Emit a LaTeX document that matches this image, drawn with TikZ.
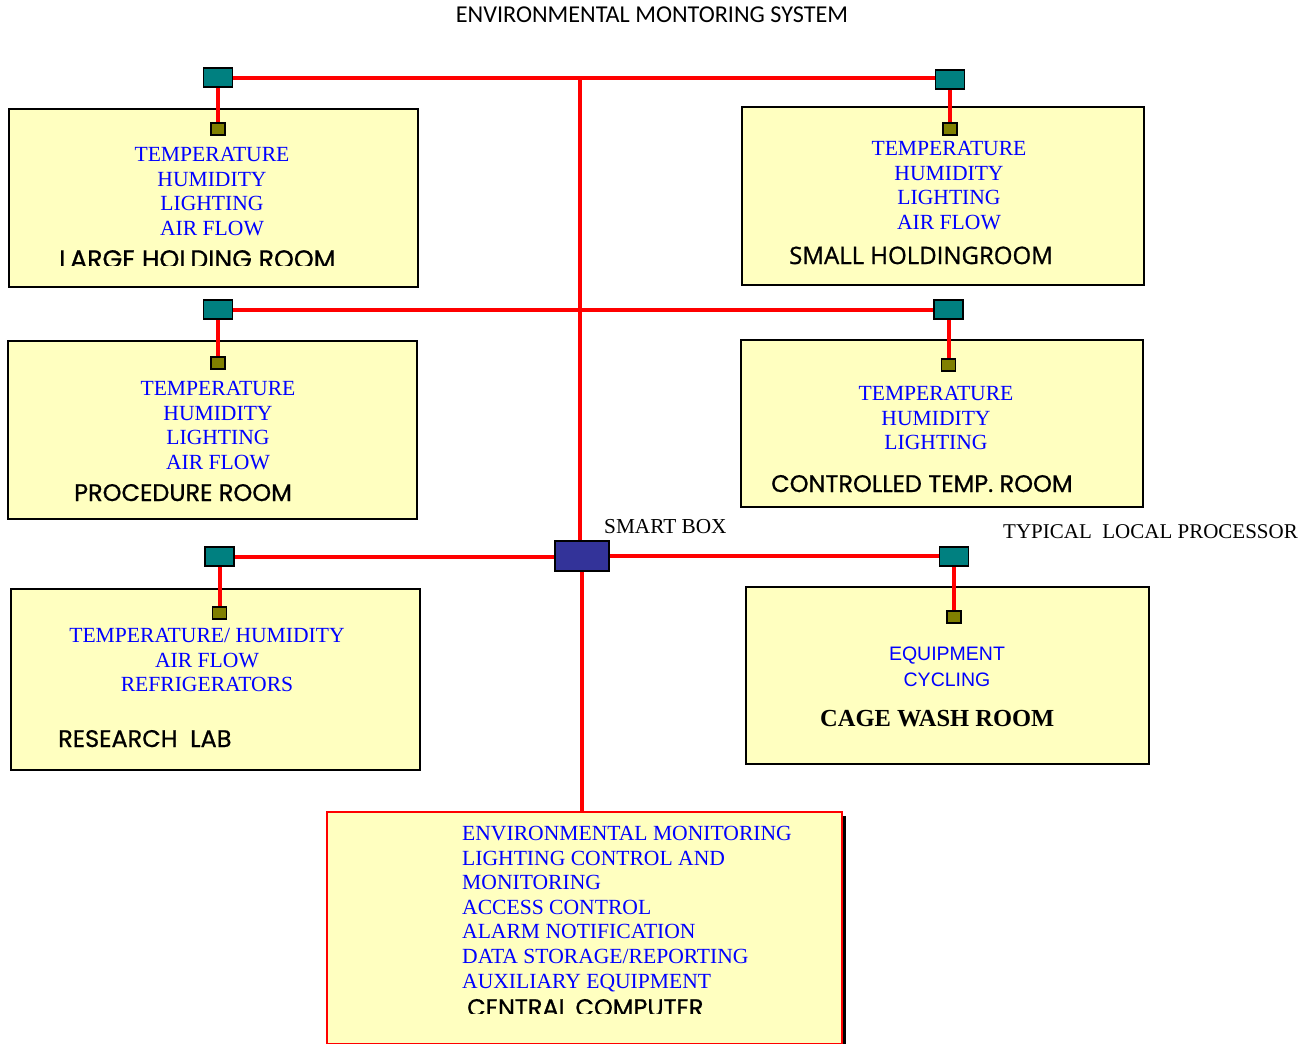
\documentclass[tikz,border=0pt]{standalone}
\usepackage{fontspec}
\setmainfont{Liberation Serif}
\newfontfamily\calib{Carlito}
\newfontfamily\popp{Poppins}[FakeBold=0.8]
\newfontfamily\osans{Open Sans}[FakeBold=1]
\newfontfamily\lsans{Liberation Sans}
\definecolor{roomfill}{RGB}{255,255,192}
\definecolor{procteal}{RGB}{0,128,128}
\definecolor{sensorol}{RGB}{128,128,0}
\definecolor{smartblue}{RGB}{51,51,153}
\definecolor{txtblue}{RGB}{0,0,255}
\definecolor{wire}{RGB}{255,0,0}
\pgfdeclarelayer{roomlayer}
\pgfdeclarelayer{wirelayer}
\pgfsetlayers{roomlayer,wirelayer,main}
\tikzset{
  room/.style={draw=black, line width=2pt, fill=roomfill, anchor=north west, inner sep=0},
  lproc/.style={draw=black, line width=1.2pt, fill=procteal, minimum width=29pt, minimum height=19pt, inner sep=0},
  sens/.style={draw=black, line width=1.2pt, fill=sensorol, minimum width=14pt, minimum height=12pt, inner sep=0},
  smartbox/.style={draw=black, line width=1.5pt, fill=smartblue, minimum width=54pt, minimum height=30pt, inner sep=0},
  wireline/.style={draw=wire, line width=4pt},
  txt/.style={text=txtblue, font=\fontsize{21.6}{24.6}\selectfont, align=center, inner sep=0, anchor=north},
  ttl/.style={font=\popp\fontsize{24}{26}\selectfont, anchor=base west, inner sep=0},
  lbl/.style={font=\fontsize{21.3}{25}\selectfont, anchor=base west, inner sep=0},
}
\begin{document}
\begin{tikzpicture}[x=1pt,y=-1pt]
\useasboundingbox (0,0) rectangle (1310,1044);
% title
\node (title) [font=\calib\fontsize{24.2}{28}\selectfont, anchor=base, inner sep=0] at (652,22) {ENVIRONMENTAL MONTORING SYSTEM};
% rooms
\begin{pgfonlayer}{roomlayer}
\node (r1) [room, minimum width=409pt, minimum height=178pt] at (8,108) {};
\node (r2) [room, minimum width=402pt, minimum height=178pt] at (741,106) {};
\node (r3) [room, minimum width=409pt, minimum height=178pt] at (7,340) {};
\node (r4) [room, minimum width=402pt, minimum height=167pt] at (740,339) {};
\node (r5) [room, minimum width=409pt, minimum height=181pt] at (10,588) {};
\node (r6) [room, minimum width=403pt, minimum height=177pt] at (745,586) {};
\fill[black] (331,816) rectangle (846,1050);
\node (cc) [room, draw=wire, minimum width=515pt, minimum height=232pt] at (326,811) {};
\end{pgfonlayer}
% local processors, sensors, smart box
\node (p1) [lproc] at (218,77.5) {};
\node (p2) [lproc] at (950,79.5) {};
\node (p3) [lproc] at (218,309.5) {};
\node (p4) [lproc] at (948.5,309.5) {};
\node (p5) [lproc] at (219.5,556.5) {};
\node (p6) [lproc] at (954,556.5) {};
\node (s1) [sens] at (218,129) {};
\node (s2) [sens] at (950,129) {};
\node (s3) [sens] at (218,363) {};
\node (s4) [sens] at (948.5,365) {};
\node (s5) [sens] at (219.5,613) {};
\node (s6) [sens] at (954,617) {};
\node (smart) [smartbox] at (582,556) {};
\coordinate (j1) at (580,78);
% wires
\begin{pgfonlayer}{wirelayer}
\draw[wireline] (p1.east) -- (p1.east -| p2.west);
\draw[wireline] (p3.east) -- (p4.west);
\draw[wireline] (j1) -- (j1 |- smart.north);
\draw[wireline] (p5.east) -- (p5.east -| smart.west);
\draw[wireline] (smart.east) -- (smart.east -| p6.west);
\draw[wireline] (smart.south) -- (smart.south |- cc.north);
\draw[wireline] (p1.south) -- (s1.north);
\draw[wireline] (p2.south) -- (s2.north);
\draw[wireline] (p3.south) -- (s3.north);
\draw[wireline] (p4.south) -- (s4.north);
\draw[wireline] (p5.south) -- (s5.north);
\draw[wireline] (p6.south) -- (s6.north);
\end{pgfonlayer}
% labels
\node (lsb) [lbl] at (604,533) {SMART BOX};
\node (ltlp) [lbl, font=\fontsize{21}{24}\selectfont] at (1003,538) {TYPICAL\ \ LOCAL PROCESSOR};
% room texts
\node (t1) [txt] at (212,147) {TEMPERATURE\\HUMIDITY\\LIGHTING\\AIR FLOW};
\node (t2) [txt] at (949,141) {TEMPERATURE\\HUMIDITY\\LIGHTING\\AIR FLOW};
\node (t3) [txt] at (218,381) {TEMPERATURE\\HUMIDITY\\LIGHTING\\AIR FLOW};
\node (t4) [txt] at (936,386) {TEMPERATURE\\HUMIDITY\\LIGHTING};
\node (t5) [txt] at (207,628) {TEMPERATURE/ HUMIDITY\\AIR FLOW\\REFRIGERATORS};
\node (t6) [txt, font=\lsans\fontsize{19.5}{26}\selectfont] at (947,647) {EQUIPMENT\\CYCLING};
\node (t7) [txt, align=left, anchor=north west] at (462,826) {ENVIRONMENTAL MONITORING\\LIGHTING CONTROL AND\\MONITORING\\ACCESS CONTROL\\ALARM NOTIFICATION\\DATA STORAGE/REPORTING\\AUXILIARY EQUIPMENT};
% room titles
\begin{scope}
\clip (8,108) rectangle (417,265);
\node (n1) [ttl, font=\popp\fontsize{25.3}{26}\selectfont] at (59,268) {LARGE HOLDING ROOM};
\end{scope}
\node (n2) [ttl, font=\osans\fontsize{24}{26}\selectfont] at (789,264) {SMALL HOLDINGROOM};
\node (n3) [ttl] at (74,501) {PROCEDURE ROOM};
\node (n4) [ttl] at (771,492) {CONTROLLED TEMP. ROOM};
\node (n5) [ttl] at (58,747) {RESEARCH\ \ LAB};
\node (n6) [ttl, font=\bfseries\fontsize{24.5}{30}\selectfont] at (820,726) {CAGE WASH ROOM};
\begin{scope}
\clip (326,811) rectangle (841,1013);
\node (n7) [ttl] at (467,1016) {CENTRAL COMPUTER};
\end{scope}
\end{tikzpicture}
\end{document}
